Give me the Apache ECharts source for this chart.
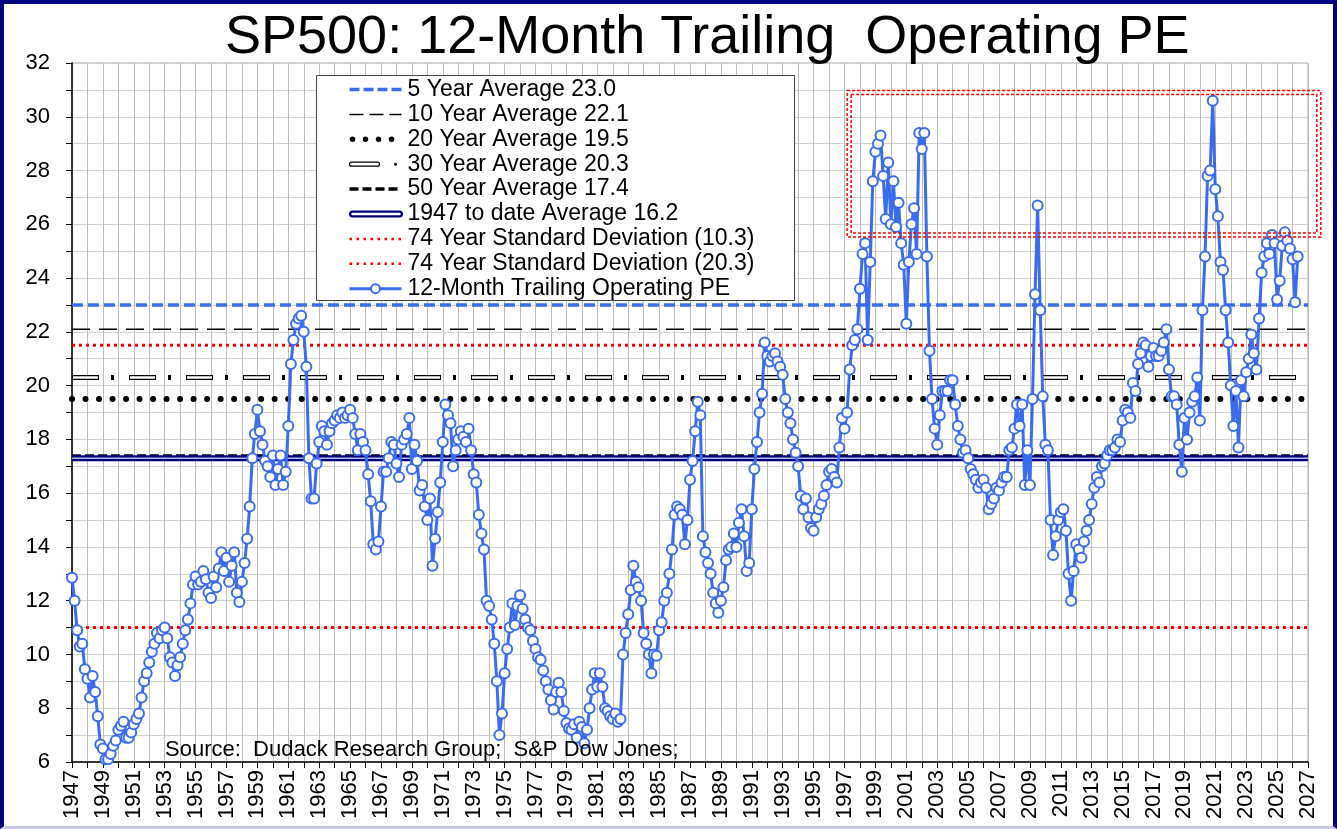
<!DOCTYPE html>
<html>
<head>
<meta charset="utf-8">
<title>SP500: 12-Month Trailing Operating PE</title>
<script src="https://cdn.jsdelivr.net/npm/echarts@6/dist/echarts.min.js"></script>
<style>
  html, body { margin: 0; padding: 0; background: #fff; }
  #chart { position: absolute; left: 0; top: 0; width: 1337px; height: 829px; }
  #frame { position: absolute; left: 0; top: 0; width: 1337px; height: 829px; box-sizing: border-box;
    border: 4px solid #000080; border-bottom: 3px solid #c8c8e8; pointer-events: none; }
</style>
</head>
<body>
<div id="chart"></div>
<div id="frame"></div>
<script>
const startYear = 1947;
const endYear = 2027;
const perYear = 6; // one reading every two months

// trailing PE, one row per year
const pe = [
  12.85, 12.0, 10.9, 10.3, 10.4, 9.45,   // 1947
  9.1, 8.4, 9.2, 8.6, 7.7, 6.65,         // 1948
  6.5, 6.1, 6.1, 6.3, 6.6, 6.8,          // 1949
  7.2, 7.35, 7.5, 6.9, 6.9, 7.1,         // 1950
  7.4, 7.6, 7.8, 8.4, 9.0, 9.3,          // 1951
  9.7, 10.1, 10.4, 10.8, 10.6, 10.9,     // 1952
  11.0, 10.6, 9.9, 9.7, 9.2, 9.6,        // 1953
  9.9, 10.4, 10.9, 11.3, 11.9, 12.6,     // 1954
  12.9, 12.6, 12.7, 13.1, 12.8, 12.3,    // 1955
  12.1, 12.9, 12.5, 13.2, 13.8, 13.1,    // 1956
  13.6, 12.7, 13.3, 13.8, 12.3, 11.95,   // 1957
  12.7, 13.4, 14.3, 15.5, 17.3, 18.2,    // 1958
  19.1, 18.3, 17.8, 17.2, 17.0, 16.6,    // 1959
  17.4, 16.3, 16.9, 17.4, 16.3, 16.8,    // 1960
  18.5, 20.8, 21.7, 22.3, 22.5, 22.6,    // 1961
  22.0, 20.7, 17.3, 15.8, 15.8, 17.1,    // 1962
  17.9, 18.5, 18.3, 17.8, 18.3, 18.6,    // 1963
  18.7, 18.9, 18.8, 19.0, 18.8, 18.9,    // 1964
  19.1, 18.8, 18.2, 17.6, 18.2, 17.9,    // 1965
  17.6, 16.7, 15.7, 14.1, 13.9, 14.2,    // 1966
  15.5, 16.8, 16.8, 17.3, 17.9, 17.8,    // 1967
  17.1, 16.6, 17.8, 18.0, 18.2, 18.8,    // 1968
  16.9, 17.8, 17.2, 16.1, 16.3, 15.5,    // 1969
  15.0, 15.8, 13.3, 14.3, 15.3, 16.4,    // 1970
  17.9, 19.3, 18.9, 18.6, 17.0, 17.6,    // 1971
  18.0, 18.3, 18.1, 17.9, 18.4, 17.6,    // 1972
  16.7, 16.4, 15.2, 14.5, 13.9, 12.0,    // 1973
  11.8, 11.3, 10.4, 9.0, 7.0, 7.8,       // 1974
  9.3, 10.2, 11.0, 11.9, 11.1, 11.8,     // 1975
  12.2, 11.7, 11.3, 11.0, 10.9, 10.5,    // 1976
  10.2, 9.9, 9.8, 9.4, 9.0, 8.7,         // 1977
  8.3, 7.95, 8.6, 8.95, 8.6, 7.9,        // 1978
  7.45, 7.25, 7.2, 7.4, 6.9, 7.5,        // 1979
  7.3, 6.7, 7.2, 8.0, 8.7, 9.3,          // 1980
  8.8, 9.3, 8.8, 8.0, 7.9, 7.7,          // 1981
  7.6, 7.8, 7.5, 7.6, 10.0, 10.8,        // 1982
  11.5, 12.4, 13.3, 12.7, 12.5, 12.0,    // 1983
  10.8, 10.4, 10.0, 9.3, 10.0, 9.95,     // 1984
  10.9, 11.2, 12.0, 12.3, 13.0, 13.9,    // 1985
  15.2, 15.5, 15.4, 15.2, 14.1, 15.0,    // 1986
  16.5, 17.2, 18.3, 19.4, 18.9, 14.4,    // 1987
  13.8, 13.4, 13.0, 12.3, 11.9, 11.55,   // 1988
  12.0, 12.5, 13.5, 13.9, 14.0, 14.5,    // 1989
  14.0, 14.9, 15.4, 14.4, 13.1, 13.4,    // 1990
  15.4, 16.9, 17.9, 19.0, 19.7, 21.6,    // 1991
  21.1, 20.9, 21.1, 21.2, 20.9, 20.7,    // 1992
  20.4, 19.5, 19.0, 18.6, 18.0, 17.5,    // 1993
  17.0, 15.9, 15.4, 15.8, 15.1, 14.7,    // 1994
  14.6, 15.1, 15.4, 15.6, 15.9, 16.3,    // 1995
  16.8, 16.9, 16.6, 16.4, 17.7, 18.8,    // 1996
  18.4, 19.0, 20.6, 21.5, 21.7, 22.1,    // 1997
  23.6, 24.9, 25.3, 21.7, 24.6, 27.6,    // 1998
  28.7, 29.0, 29.3, 27.8, 26.2, 28.3,    // 1999
  26.0, 27.6, 25.9, 26.8, 25.3, 24.5,    // 2000
  22.3, 24.6, 26.0, 26.6, 24.9, 29.4,    // 2001
  28.8, 29.4, 24.8, 21.3, 19.5, 18.4,    // 2002
  17.8, 18.9, 19.8, 19.8, 19.8, 20.2,    // 2003
  20.2, 19.3, 18.5, 18.0, 17.5, 17.6,    // 2004
  17.3, 16.9, 16.7, 16.5, 16.2, 16.4,    // 2005
  16.5, 16.2, 15.4, 15.6, 15.8, 16.2,    // 2006
  16.1, 16.4, 16.6, 16.6, 17.6, 17.7,    // 2007
  18.4, 19.3, 18.5, 19.3, 16.3, 17.6,    // 2008
  16.3, 19.5, 23.4, 26.7, 22.8, 19.6,    // 2009
  17.8, 17.6, 15.0, 13.7, 14.4, 15.0,    // 2010
  15.3, 15.4, 14.6, 13.0, 12.0, 13.1,    // 2011
  14.1, 13.9, 13.6, 14.2, 14.6, 15.0,    // 2012
  15.6, 16.2, 16.6, 16.4, 17.0, 17.1,    // 2013
  17.4, 17.6, 17.6, 17.7, 18.0, 17.9,    // 2014
  18.7, 19.1, 19.0, 18.8, 20.1, 19.8,    // 2015
  20.8, 21.2, 21.6, 21.5, 20.7, 21.1,    // 2016
  21.4, 21.1, 21.1, 21.3, 21.6, 22.1,    // 2017
  20.6, 19.6, 19.6, 19.3, 17.8, 16.8,    // 2018
  18.8, 18.0, 19.0, 19.4, 19.6, 20.3,    // 2019
  18.7, 22.8, 24.8, 27.8, 28.0, 30.6,    // 2020
  27.3, 26.3, 24.6, 24.3, 22.8, 21.6,    // 2021
  20.0, 18.5, 19.8, 17.7, 20.2, 19.6,    // 2022
  20.5, 21.0, 21.9, 21.2, 20.6, 22.5,    // 2023
  24.2, 24.8, 25.3, 24.9, 25.6, 25.3,    // 2024
  23.2, 23.9, 25.2, 25.7, 25.4, 25.1,    // 2025
  24.7, 23.1, 24.8                       // 2026
];

// reference lines (values where they sit on the chart)
const avg5 = 23.0;
const avg10 = 22.1;
const avg20 = 19.5;
const avg30 = 20.3;
const avg50 = 17.38;
const avgAll = 17.3;
const sdLow = 11.0;
const sdHigh = 21.5;

const legendNames = [
  '5 Year Average 23.0',
  '10 Year Average 22.1',
  '20 Year Average 19.5',
  '30 Year Average 20.3',
  '50 Year Average 17.4',
  '1947 to date Average 16.2',
  '74 Year Standard Deviation (10.3)',
  '74 Year Standard Deviation (20.3)',
  '12-Month Trailing Operating PE'
];

// highlighted zone (years, PE)
const boxYears = [1997.3, 2027.7];
const boxPE = [25.6, 30.9];

const FONT = 'Liberation Sans, Arial, sans-serif';
const BLUE = '#3a6cf0';

const peData = pe.map((v, i) => [startYear + i / perYear, v]);
const flat = v => [[startYear, v], [endYear, v]];

function refLine(name, v, lineStyle, z) {
  return {
    name: name, type: 'line', data: flat(v), symbol: 'none', silent: true,
    lineStyle: lineStyle, z: z || 2
  };
}

var myChart = echarts.init(document.getElementById('chart'));

var option = {
  animation: false,
  backgroundColor: '#fff',
  textStyle: { fontFamily: FONT },
  grid: { left: 72, right: 29, top: 63, bottom: 67, show: true, borderColor: '#a8a8a8', borderWidth: 1 },
  xAxis: {
    type: 'value', min: startYear, max: endYear, interval: 1,
    axisLine: { lineStyle: { color: '#000', width: 1.5 } },
    axisTick: { length: 6, lineStyle: { color: '#000' } },
    axisLabel: {
      rotate: 90, fontSize: 22, color: '#000', fontFamily: FONT, margin: 8,
      formatter: v => ((v - startYear) % 2 === 0 ? String(v) : '')
    },
    splitLine: { show: true, lineStyle: { color: '#bdbdbd' } }
  },
  yAxis: {
    type: 'value', min: 6, max: 32, interval: 1,
    axisLine: { show: true, lineStyle: { color: '#000', width: 1.5 } },
    axisTick: { show: true, length: 6, lineStyle: { color: '#000' } },
    axisLabel: {
      fontSize: 22, color: '#000', fontFamily: FONT, margin: 22,
      formatter: v => (v % 2 === 0 ? String(v) : '')
    },
    splitLine: { show: true, lineStyle: { color: '#d2d2d2' } }
  },
  series: [
    refLine(legendNames[6], sdLow, { color: '#ff0000', width: 3, type: [3, 4] }),
    refLine(legendNames[7], sdHigh, { color: '#ff0000', width: 3, type: [3, 4] }),
    refLine(legendNames[4], avg50, { color: '#000', width: 3.5, type: [9, 4] }),
    refLine(legendNames[5], avgAll, { color: '#000080', width: 6 }, 3),
    refLine('avgAllInner', avgAll, { color: '#b4bde0', width: 1.5 }, 4),
    refLine(legendNames[2], avg20, { color: '#000', width: 6, type: [0.01, 13.5], cap: 'round' }),
    refLine(legendNames[3], avg30, { color: '#000', width: 5, type: [27, 12, 3, 15] }),
    refLine('avg30Inner', avg30, { color: '#fff', width: 2.5, type: [25, 32], dashOffset: 56 }, 3),
    refLine(legendNames[1], avg10, { color: '#000', width: 1.5, type: [18, 9] }),
    refLine(legendNames[0], avg5, { color: BLUE, width: 3.5, type: [11, 5] }),
    {
      name: legendNames[8], type: 'line', data: peData, z: 10,
      symbol: 'emptyCircle', symbolSize: 10, showAllSymbol: true,
      lineStyle: { color: BLUE, width: 3 },
      itemStyle: { color: BLUE, borderWidth: 2 }
    }
  ]
};
myChart.setOption(option);

// legend drawn by hand so that the double / hollow line samples match
function legendIcon(i, y) {
  const x1 = 33, x2 = 85;
  const ln = (style) => ({ type: 'line', shape: { x1: x1, y1: y, x2: x2, y2: y }, style: style });
  switch (i) {
    case 0: return [ln({ stroke: BLUE, lineWidth: 3.5, lineDash: [10, 4] })];
    case 1: return [ln({ stroke: '#000', lineWidth: 1.5, lineDash: [14, 6] })];
    case 2: return [{ type: 'line', shape: { x1: 36, y1: y, x2: 86, y2: y },
      style: { stroke: '#000', lineWidth: 5.5, lineDash: [0.01, 13], lineCap: 'round' } }];
    case 3: return [
      { type: 'rect', shape: { x: 33, y: y - 2, width: 30, height: 4, r: 2 }, style: { fill: '#fff', stroke: '#000', lineWidth: 1.2 } },
      { type: 'circle', shape: { cx: 79, cy: y, r: 1.5 }, style: { fill: '#000' } }
    ];
    case 4: return [ln({ stroke: '#000', lineWidth: 3.5, lineDash: [9, 4] })];
    case 5: return [
      { type: 'line', shape: { x1: 36, y1: y, x2: 83, y2: y }, style: { stroke: '#000080', lineWidth: 7, lineCap: 'round' } },
      { type: 'line', shape: { x1: 36, y1: y, x2: 83, y2: y }, style: { stroke: '#fff', lineWidth: 2.5, lineCap: 'round' } }
    ];
    case 6:
    case 7: return [ln({ stroke: '#ff0000', lineWidth: 2.5, lineDash: [2.5, 4.5] })];
    default: return [
      ln({ stroke: BLUE, lineWidth: 3 }),
      { type: 'circle', shape: { cx: 59, cy: y, r: 4.5 }, style: { fill: '#fff', stroke: BLUE, lineWidth: 2 } }
    ];
  }
}

let legendChildren = [
  { type: 'rect', shape: { x: 0, y: 0, width: 478, height: 225 }, style: { fill: '#fff', stroke: '#444', lineWidth: 1 } }
];
legendNames.forEach((name, i) => {
  const y = 14 + 24.9 * i;
  legendChildren = legendChildren.concat(legendIcon(i, y));
  legendChildren.push({
    type: 'text', x: 91, y: y,
    style: { text: name, fill: '#000', font: '23px ' + FONT, verticalAlign: 'middle' }
  });
});

const p1 = myChart.convertToPixel({ gridIndex: 0 }, [boxYears[0], boxPE[1]]);
const p2 = myChart.convertToPixel({ gridIndex: 0 }, [boxYears[1], boxPE[0]]);
const boxStyle = { fill: 'none', stroke: '#ff0000', lineWidth: 1.5, lineDash: [3, 2] };

myChart.setOption({
  graphic: [
    {
      type: 'text', left: 225, top: 11,
      style: { text: 'SP500: 12-Month Trailing  Operating PE', fill: '#000', font: '54px ' + FONT }
    },
    {
      type: 'rect', z: 20, silent: true,
      shape: { x: p1[0] - 2, y: p1[1] - 2, width: p2[0] - p1[0] + 4, height: p2[1] - p1[1] + 4 },
      style: boxStyle
    },
    {
      type: 'rect', z: 20, silent: true,
      shape: { x: p1[0] + 2, y: p1[1] + 2, width: p2[0] - p1[0] - 4, height: p2[1] - p1[1] - 4 },
      style: boxStyle
    },
    { type: 'group', left: 316, top: 75, z: 30, children: legendChildren },
    {
      type: 'text', left: 165, top: 739, z: 30,
      style: { text: 'Source:  Dudack Research Group;  S&P Dow Jones;', fill: '#000', font: '22px ' + FONT }
    }
  ]
});
window.onresize = myChart.resize;
</script>
</body>
</html>
